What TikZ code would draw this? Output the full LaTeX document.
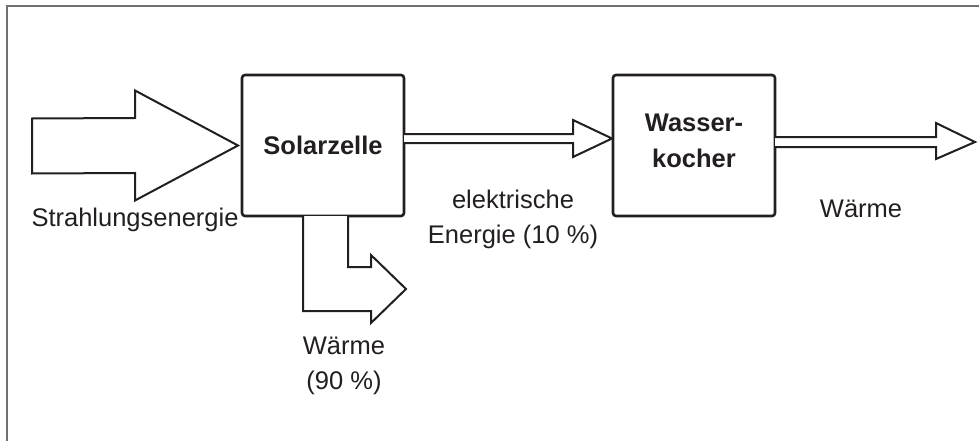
\documentclass[tikz,border=0pt]{standalone}
\usepackage{fontspec}
\setmainfont{Liberation Sans}
\usetikzlibrary{calc}
\definecolor{ink}{HTML}{231F20}
\definecolor{framecol}{HTML}{707070}
\begin{document}
\begin{tikzpicture}[x=1pt,y=-1pt,
  box/.style={draw=ink, line width=2.6pt, rounded corners=3pt, minimum width=162pt, minimum height=141pt, outer sep=0pt, inner sep=0pt, text=ink, font=\fontsize{25.5}{36}\selectfont\bfseries, align=center},
  arr/.style={draw=ink, line width=2pt, fill=white, line join=miter},
  lbl/.style={text=ink, inner sep=0pt, font=\fontsize{25.5}{35}\selectfont}]
\useasboundingbox (0,0) rectangle (979,441);
\fill[white] (0,0) rectangle (979,441);
\draw[framecol, line width=2pt] (7,442) -- (7,6) -- (980,6);

\node[box] (sol) at (323,145.5) {Solarzelle};
\node[box] (wk) at (694,145.5) {Wasser-\\kocher\rule[-9pt]{0pt}{0pt}};

% big incoming arrow
\coordinate (intail) at (32,146);
\draw[arr] ($(intail)+(0,-27.5)$) -- ($(sol.west)+(-107,-27.5)$) -- ($(sol.west)+(-107,-55)$)
  -- ($(sol.west)+(-4,0)$) -- ($(sol.west)+(-107,55)$) -- ($(sol.west)+(-107,27.5)$)
  -- ($(intail)+(0,27.5)$) -- cycle;

% thin arrow Solarzelle -> Wasserkocher
\draw[arr] ($(sol.east)+(0,-11.5)$) -- ($(wk.west)+(-40,-11.5)$) -- ($(wk.west)+(-40,-25.5)$)
  -- ($(wk.west)+(-1,-7)$) -- ($(wk.west)+(-40,11.5)$) -- ($(wk.west)+(-40,-2.5)$)
  -- ($(sol.east)+(0,-2.5)$);

% thin arrow out of Wasserkocher
\coordinate (outtip) at (975,142);
\draw[arr] ($(wk.east)+(0,-8.5)$) -- ($(outtip)+(-39,-5)$) -- ($(outtip)+(-39,-19)$)
  -- (outtip) -- ($(outtip)+(-39,17)$) -- ($(outtip)+(-39,5)$) -- ($(wk.east)+(0,1.5)$);

% bent arrow down out of Solarzelle
\coordinate (bendtip) at (406,289);
\draw[arr] ($(sol.south)+(25,0)$) -- ($(sol.south)+(25,51)$) -- ($(bendtip)+(-35,-22)$)
  -- ($(bendtip)+(-35,-34)$) -- (bendtip) -- ($(bendtip)+(-35,34)$) -- ($(bendtip)+(-35,22)$)
  -- ($(sol.south)+(-20,95)$) -- ($(sol.south)+(-20,0)$);

% labels
\node[lbl, anchor=base] (lstr) at (135,226) {Strahlungsenergie};
\node[lbl, align=center, anchor=base] (lel) at (513,243) {elektrische\\Energie (10 \%)};
\node[lbl, anchor=base] (lw2) at (861,217) {Wärme};
\node[lbl, align=center, anchor=base] (lw1) at (344,389) {Wärme\\(90 \%)};
\end{tikzpicture}
\end{document}
